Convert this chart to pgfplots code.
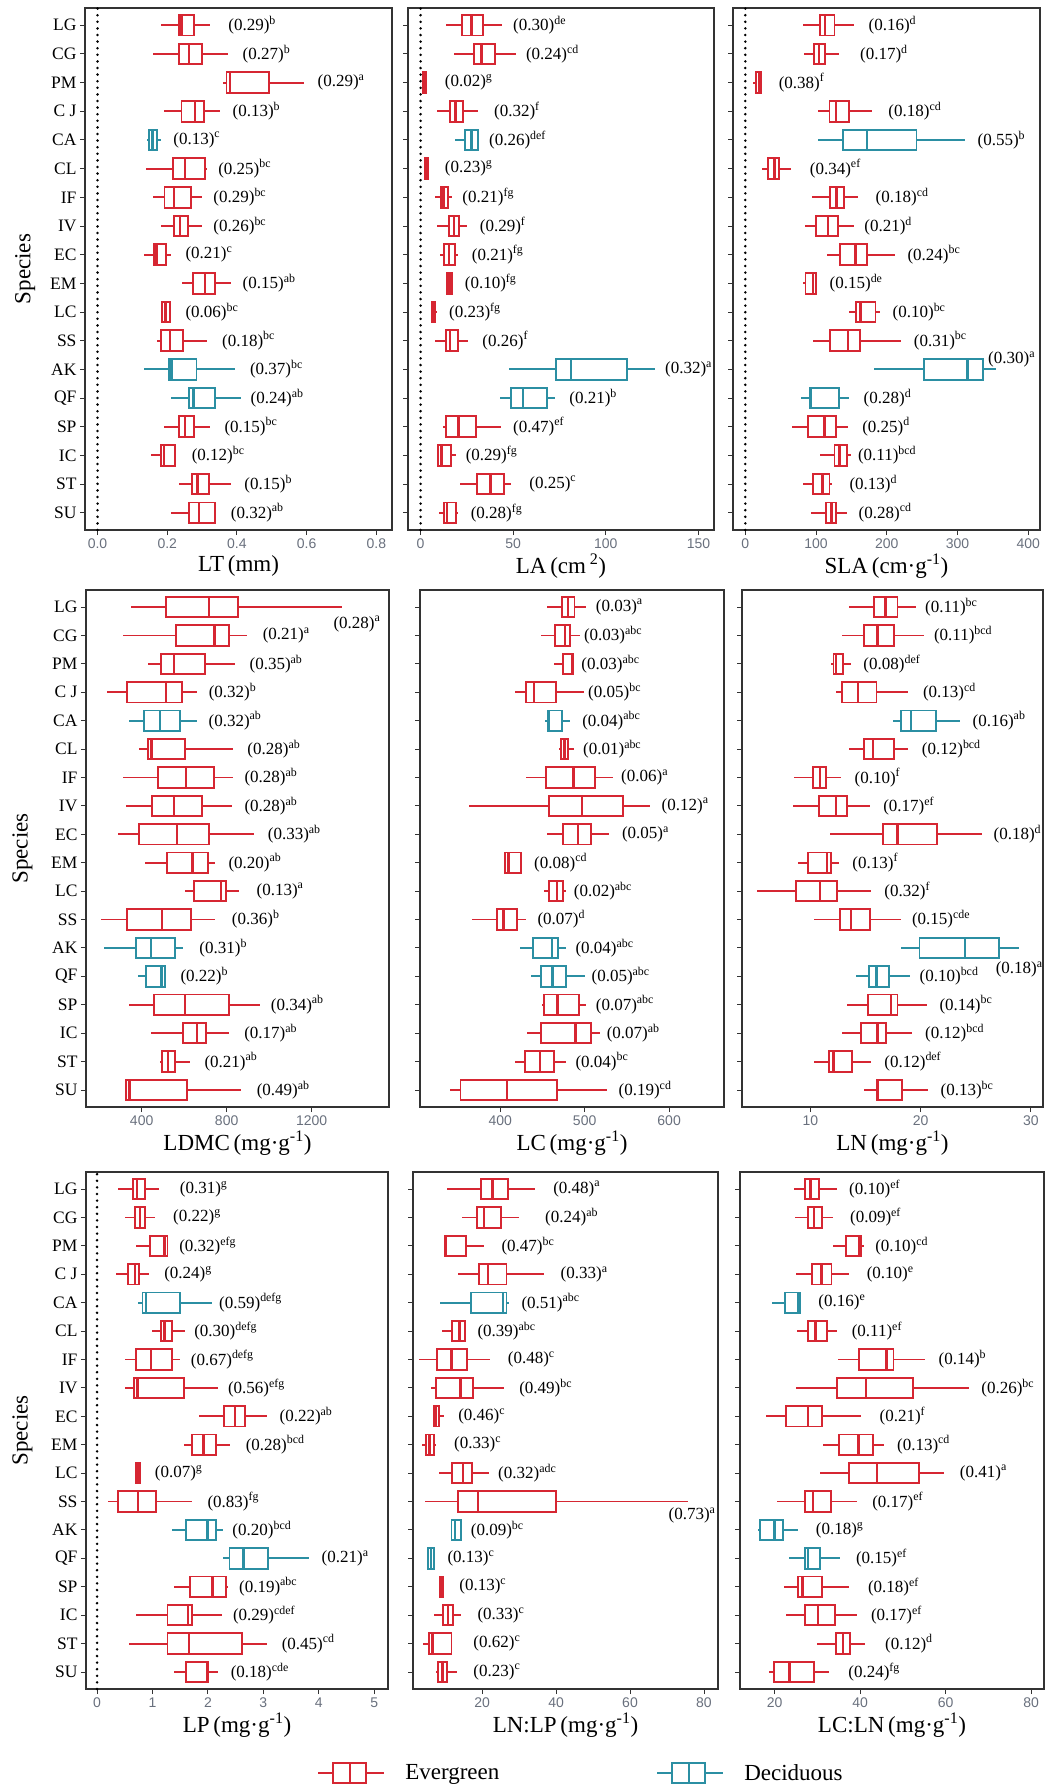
\documentclass[border=0pt]{standalone}
\usepackage{fontspec}
\setmainfont{Liberation Serif}
\newfontfamily\ticksf{Liberation Sans}
\usepackage{pgfplots}
\pgfplotsset{compat=1.18}
\usepgfplotslibrary{statistics}

\definecolor{evg}{RGB}{214,38,50}
\definecolor{dec}{RGB}{43,143,163}
\definecolor{frm}{RGB}{51,51,51}
\definecolor{tkc}{RGB}{105,112,125}

% one box: colour, row, lower whisker, q1, median, q3, upper whisker
\newcommand{\bx}[7]{\addplot[#1, line width=1.9pt, solid, boxplot prepared={draw position=#2,
  lower whisker=#3, lower quartile=#4, median=#5, upper quartile=#6, upper whisker=#7}] coordinates {};}
\newcommand{\zeroline}{\addplot[black, line width=2.8pt, line cap=round, dash pattern=on 0pt off 6.6pt] coordinates {(0,0.4) (0,18.6)};}

\pgfplotsset{
  panel/.style={
    scale only axis, clip=false, enlargelimits=false,
    axis line style={frm, line width=1.3pt},
    ymin=0.4, ymax=18.6, ytick={1,...,18},
    tick align=outside, xtick pos=bottom, ytick pos=left,
    major tick length=5pt, tick style={frm, line width=0.9pt},
    ticklabel style={font=\ticksf\fontsize{14}{14}\selectfont, text=tkc},
    yticklabel style={font=\fontsize{17.5}{17.5}\selectfont, text=black},
    /pgf/number format/assume math mode=true,
    /pgf/number format/1000 sep={},
    xlabel style={font=\fontsize{23}{23}\selectfont, at={(axis description cs:0.5,0)}, anchor=center, yshift=-36pt},
    ylabel style={font=\fontsize{23}{23}\selectfont, at={(axis description cs:-0.21,0.5)}, anchor=center},
    yticklabels={},
    boxplot/draw direction=x,
    boxplot/box extend=0.72,
    boxplot/whisker extend=0,
    boxplot/every median/.style={line width=2.4pt},
  },
  spl/.style={yticklabels={SU,ST,IC,SP,QF,AK,SS,LC,EM,EC,IV,IF,CL,CA,C J,PM,CG,LG}, ylabel={Species}},
  lab/.style={draw=none, mark=none, point meta=explicit symbolic, nodes near coords,
    nodes near coords align=horizontal,
    every node near coord/.append style={anchor=west, inner sep=0pt, font=\fontsize{17}{17}\selectfont, text=black}},
  legE/.style={legend image code/.code={\draw[evg, line width=1.9pt] (0pt,0pt) -- (15pt,0pt) (48pt,0pt) -- (66pt,0pt) (15pt,-10pt) rectangle (48pt,10pt) (31.5pt,-10pt) -- (31.5pt,10pt);}},
  legD/.style={legend image code/.code={\draw[dec, line width=1.9pt] (0pt,0pt) -- (15pt,0pt) (48pt,0pt) -- (66pt,0pt) (15pt,-10pt) rectangle (48pt,10pt) (31.5pt,-10pt) -- (31.5pt,10pt);}},
}

\begin{document}
\begin{tikzpicture}
\path[use as bounding box] (0,0) rectangle (1046pt,-1786pt);

% ---------- LT
\begin{axis}[panel, spl, at={(85pt,-8pt)}, anchor=north west, width=307pt, height=522pt,
  ylabel style={at={(axis description cs:-0.195,0.5)}},
  xmin=-0.036, xmax=0.845, xtick={0,0.2,0.4,0.6,0.8},
  xticklabel style={/pgf/number format/.cd, fixed, fixed zerofill, precision=1},
  xlabel={LT\,(mm)}]
\zeroline
\bx{evg}{18}{0.182}{0.233}{0.241}{0.278}{0.324}
\bx{evg}{17}{0.160}{0.233}{0.262}{0.301}{0.373}
\bx{evg}{16}{0.361}{0.370}{0.380}{0.491}{0.592}
\bx{evg}{15}{0.192}{0.241}{0.279}{0.305}{0.351}
\bx{dec}{14}{0.142}{0.147}{0.158}{0.171}{0.181}
\bx{evg}{13}{0.139}{0.217}{0.251}{0.309}{0.313}
\bx{evg}{12}{0.160}{0.192}{0.219}{0.267}{0.301}
\bx{evg}{11}{0.182}{0.220}{0.236}{0.260}{0.301}
\bx{evg}{10}{0.133}{0.161}{0.169}{0.196}{0.211}
\bx{evg}{9}{0.241}{0.275}{0.308}{0.337}{0.384}
\bx{evg}{8}{0.183}{0.186}{0.195}{0.208}{0.211}
\bx{evg}{7}{0.171}{0.183}{0.208}{0.244}{0.313}
\bx{dec}{6}{0.133}{0.205}{0.212}{0.284}{0.394}
\bx{dec}{5}{0.211}{0.263}{0.275}{0.337}{0.411}
\bx{evg}{4}{0.192}{0.233}{0.251}{0.278}{0.324}
\bx{evg}{3}{0.152}{0.183}{0.190}{0.222}{0.222}
\bx{evg}{2}{0.233}{0.271}{0.287}{0.320}{0.384}
\bx{evg}{1}{0.211}{0.263}{0.291}{0.337}{0.337}
\addplot[lab] coordinates {
(0.375,18) [(0.29)\textsuperscript{b}]
(0.416,17) [(0.27)\textsuperscript{b}]
(0.631,16) [(0.29)\textsuperscript{a}]
(0.387,15) [(0.13)\textsuperscript{b}]
(0.217,14) [(0.13)\textsuperscript{c}]
(0.346,13) [(0.25)\textsuperscript{bc}]
(0.332,12) [(0.29)\textsuperscript{bc}]
(0.332,11) [(0.26)\textsuperscript{bc}]
(0.252,10) [(0.21)\textsuperscript{c}]
(0.416,9) [(0.15)\textsuperscript{ab}]
(0.252,8) [(0.06)\textsuperscript{bc}]
(0.357,7) [(0.18)\textsuperscript{bc}]
(0.437,6) [(0.37)\textsuperscript{bc}]
(0.439,5) [(0.24)\textsuperscript{ab}]
(0.364,4) [(0.15)\textsuperscript{bc}]
(0.270,3) [(0.12)\textsuperscript{bc}]
(0.421,2) [(0.15)\textsuperscript{b}]
(0.382,1) [(0.32)\textsuperscript{ab}]
};
\end{axis}

% ---------- LA
\begin{axis}[panel, at={(408pt,-8pt)}, anchor=north west, width=306pt, height=522pt,
  xmin=-6.8, xmax=158.4, xtick={0,50,100,150},
  xlabel={LA\,(cm\,\textsuperscript{2})}]
\zeroline
\bx{evg}{18}{13.5}{22.5}{27.4}{33.7}{44.1}
\bx{evg}{17}{18.0}{28.6}{32.8}{40.4}{51.4}
\bx{evg}{16}{1.3}{1.5}{2.0}{2.9}{3.1}
\bx{evg}{15}{8.8}{16.0}{18.9}{22.9}{31.0}
\bx{dec}{14}{18.6}{23.8}{27.4}{31.0}{31.5}
\bx{evg}{13}{2.0}{2.2}{2.7}{4.0}{4.1}
\bx{evg}{12}{7.6}{10.8}{12.4}{14.8}{17.1}
\bx{evg}{11}{8.8}{15.3}{18.0}{20.7}{25.0}
\bx{evg}{10}{10.6}{12.6}{15.3}{18.6}{20.4}
\bx{evg}{9}{13.9}{14.4}{15.7}{16.9}{16.9}
\bx{evg}{8}{5.4}{6.1}{7.0}{7.9}{9.0}
\bx{evg}{7}{7.6}{13.5}{16.0}{20.2}{25.6}
\bx{dec}{6}{47.7}{73.3}{81.1}{111.2}{126.5}
\bx{dec}{5}{43.1}{48.8}{55.3}{68.3}{72.4}
\bx{evg}{4}{12.1}{13.9}{20.5}{29.7}{43.6}
\bx{evg}{3}{9.4}{9.4}{11.2}{16.6}{18.9}
\bx{evg}{2}{21.1}{30.5}{37.8}{44.9}{49.0}
\bx{evg}{1}{9.7}{12.8}{14.2}{19.3}{20.4}
\addplot[lab] coordinates {
(49.9,18) [(0.30)\textsuperscript{de}]
(56.8,17) [(0.24)\textsuperscript{cd}]
(13.0,16) [(0.02)\textsuperscript{g}]
(39.6,15) [(0.32)\textsuperscript{f}]
(36.9,14) [(0.26)\textsuperscript{def}]
(13.0,13) [(0.23)\textsuperscript{g}]
(22.5,12) [(0.21)\textsuperscript{fg}]
(31.9,11) [(0.29)\textsuperscript{f}]
(27.6,10) [(0.21)\textsuperscript{fg}]
(23.8,9) [(0.10)\textsuperscript{fg}]
(15.3,8) [(0.23)\textsuperscript{fg}]
(33.3,7) [(0.26)\textsuperscript{f}]
(131.9,6) [(0.32)\textsuperscript{a}]
(80.2,5) [(0.21)\textsuperscript{b}]
(49.9,4) [(0.47)\textsuperscript{ef}]
(24.3,3) [(0.29)\textsuperscript{fg}]
(58.6,2) [(0.25)\textsuperscript{c}]
(27.0,1) [(0.28)\textsuperscript{fg}]
};
\end{axis}

% ---------- SLA
\begin{axis}[panel, at={(733pt,-8pt)}, anchor=north west, width=307pt, height=522pt,
  xmin=-17.4, xmax=416.5, xtick={0,100,200,300,400},
  xlabel={SLA\,(cm·g\textsuperscript{-1})}]
\zeroline
\bx{evg}{18}{81}{105}{113}{126}{153}
\bx{evg}{17}{83}{97}{104}{112}{133}
\bx{evg}{16}{11}{15}{19}{22}{22}
\bx{evg}{15}{103}{119}{128}{147}{179}
\bx{dec}{14}{103}{138}{172}{242}{310}
\bx{evg}{13}{24}{32}{41}{48}{64}
\bx{evg}{12}{94}{120}{129}{140}{159}
\bx{evg}{11}{85}{100}{117}{131}{154}
\bx{evg}{10}{115}{134}{156}{172}{212}
\bx{evg}{9}{82}{85}{96}{100}{100}
\bx{evg}{8}{146}{157}{163}{184}{190}
\bx{evg}{7}{96}{120}{145}{162}{220}
\bx{dec}{6}{182}{253}{314}{336}{354}
\bx{dec}{5}{78}{91}{93}{132}{147}
\bx{evg}{4}{66}{89}{112}{128}{145}
\bx{evg}{3}{106}{126}{133}{144}{150}
\bx{evg}{2}{81}{96}{109}{119}{123}
\bx{evg}{1}{93}{114}{122}{128}{144}
\addplot[lab] coordinates {
(174,18) [(0.16)\textsuperscript{d}]
(162,17) [(0.17)\textsuperscript{d}]
(47,16) [(0.38)\textsuperscript{f}]
(202,15) [(0.18)\textsuperscript{cd}]
(328,14) [(0.55)\textsuperscript{b}]
(91,13) [(0.34)\textsuperscript{ef}]
(184,12) [(0.18)\textsuperscript{cd}]
(168,11) [(0.21)\textsuperscript{d}]
(229,10) [(0.24)\textsuperscript{bc}]
(119,9) [(0.15)\textsuperscript{de}]
(208,8) [(0.10)\textsuperscript{bc}]
(238,7) [(0.31)\textsuperscript{bc}]
(343,6.35) [(0.30)\textsuperscript{a}]
(167,5) [(0.28)\textsuperscript{d}]
(165,4) [(0.25)\textsuperscript{d}]
(159,3) [(0.11)\textsuperscript{bcd}]
(147,2) [(0.13)\textsuperscript{d}]
(160,1) [(0.28)\textsuperscript{cd}]
};
\end{axis}

% ---------- LDMC
\begin{axis}[panel, spl, at={(86pt,-590pt)}, anchor=north west, width=303pt, height=517pt,
  xmin=138, xmax=1564, xtick={400,800,1200},
  xlabel={LDMC\,(mg·g\textsuperscript{-1})}]
\bx{evg}{18}{348}{515}{718}{853}{1341}
\bx{evg}{17}{314}{562}{742}{809}{894}
\bx{evg}{16}{428}{493}{552}{700}{839}
\bx{evg}{15}{235}{333}{515}{591}{662}
\bx{dec}{14}{342}{411}{486}{582}{662}
\bx{evg}{13}{389}{428}{447}{604}{831}
\bx{evg}{12}{311}{475}{609}{740}{831}
\bx{evg}{11}{326}{447}{552}{682}{827}
\bx{evg}{10}{290}{389}{565}{718}{930}
\bx{evg}{9}{417}{521}{640}{714}{747}
\bx{evg}{8}{604}{646}{772}{797}{860}
\bx{evg}{7}{207}{333}{496}{632}{747}
\bx{dec}{6}{224}{373}{445}{558}{593}
\bx{dec}{5}{384}{419}{493}{511}{511}
\bx{evg}{4}{342}{460}{604}{809}{957}
\bx{evg}{3}{442}{595}{659}{704}{813}
\bx{evg}{2}{488}{497}{525}{557}{627}
\bx{evg}{1}{320}{326}{342}{615}{866}
\addplot[lab] coordinates {
(1302,17.4) [(0.28)\textsuperscript{a}]
(969,17) [(0.21)\textsuperscript{a}]
(907,16) [(0.35)\textsuperscript{ab}]
(715,15) [(0.32)\textsuperscript{b}]
(714,14) [(0.32)\textsuperscript{ab}]
(897,13) [(0.28)\textsuperscript{ab}]
(883,12) [(0.28)\textsuperscript{ab}]
(883,11) [(0.28)\textsuperscript{ab}]
(993,10) [(0.33)\textsuperscript{ab}]
(808,9) [(0.20)\textsuperscript{ab}]
(940,8) [(0.13)\textsuperscript{a}]
(824,7) [(0.36)\textsuperscript{b}]
(671,6) [(0.31)\textsuperscript{b}]
(582,5) [(0.22)\textsuperscript{b}]
(1007,4) [(0.34)\textsuperscript{ab}]
(882,3) [(0.17)\textsuperscript{ab}]
(695,2) [(0.21)\textsuperscript{ab}]
(941,1) [(0.49)\textsuperscript{ab}]
};
\end{axis}

% ---------- LC
\begin{axis}[panel, at={(420pt,-590pt)}, anchor=north west, width=304pt, height=517pt,
  xmin=305, xmax=665, xtick={400,500,600},
  xlabel={LC\,(mg·g\textsuperscript{-1})}]
\bx{evg}{18}{455}{473}{480}{488}{501}
\bx{evg}{17}{448}{465}{477}{483}{495}
\bx{evg}{16}{464}{474}{485}{486}{487}
\bx{evg}{15}{418}{430}{440}{466}{499}
\bx{dec}{14}{453}{456}{458}{473}{483}
\bx{evg}{13}{470}{472}{476}{480}{487}
\bx{evg}{12}{431}{454}{487}{512}{533}
\bx{evg}{11}{363}{458}{497}{545}{577}
\bx{evg}{10}{455}{474}{492}{507}{529}
\bx{evg}{9}{406}{406}{410}{425}{425}
\bx{evg}{8}{452}{458}{467}{474}{478}
\bx{evg}{7}{367}{396}{404}{420}{431}
\bx{dec}{6}{424}{439}{461}{468}{478}
\bx{dec}{5}{437}{448}{462}{478}{500}
\bx{evg}{4}{449}{452}{468}{493}{502}
\bx{evg}{3}{432}{448}{489}{507}{518}
\bx{evg}{2}{418}{429}{447}{464}{478}
\bx{evg}{1}{341}{353}{408}{467}{527}
\addplot[lab] coordinates {
(513,18) [(0.03)\textsuperscript{a}]
(499,17) [(0.03)\textsuperscript{abc}]
(496,16) [(0.03)\textsuperscript{abc}]
(504,15) [(0.05)\textsuperscript{bc}]
(497,14) [(0.04)\textsuperscript{abc}]
(498,13) [(0.01)\textsuperscript{abc}]
(543,12) [(0.06)\textsuperscript{a}]
(591,11) [(0.12)\textsuperscript{a}]
(544,10) [(0.05)\textsuperscript{a}]
(440,9) [(0.08)\textsuperscript{cd}]
(487,8) [(0.02)\textsuperscript{abc}]
(444,7) [(0.07)\textsuperscript{d}]
(489,6) [(0.04)\textsuperscript{abc}]
(508,5) [(0.05)\textsuperscript{abc}]
(513,4) [(0.07)\textsuperscript{abc}]
(526,3) [(0.07)\textsuperscript{ab}]
(489,2) [(0.04)\textsuperscript{bc}]
(540,1) [(0.19)\textsuperscript{cd}]
};
\end{axis}

% ---------- LN
\begin{axis}[panel, at={(742pt,-590pt)}, anchor=north west, width=301pt, height=517pt,
  xmin=3.8, xmax=31.1, xtick={10,20,30},
  xlabel={LN\,(mg·g\textsuperscript{-1})}]
\bx{evg}{18}{13.5}{15.8}{16.8}{17.9}{19.6}
\bx{evg}{17}{12.9}{14.9}{16.1}{17.6}{20.3}
\bx{evg}{16}{11.9}{12.1}{12.3}{13.0}{13.7}
\bx{evg}{15}{12.3}{12.9}{14.3}{16.0}{18.9}
\bx{dec}{14}{17.5}{18.2}{19.1}{21.4}{23.6}
\bx{evg}{13}{13.5}{14.9}{15.7}{17.6}{18.9}
\bx{evg}{12}{8.5}{10.2}{10.9}{11.4}{12.8}
\bx{evg}{11}{8.4}{10.8}{12.3}{13.3}{15.4}
\bx{evg}{10}{11.8}{16.6}{17.9}{21.5}{25.6}
\bx{evg}{9}{8.9}{9.8}{11.5}{11.9}{12.6}
\bx{evg}{8}{5.2}{8.7}{10.9}{12.4}{15.5}
\bx{evg}{7}{10.3}{12.7}{13.7}{15.4}{18.2}
\bx{dec}{6}{18.2}{19.9}{24.0}{27.1}{28.9}
\bx{dec}{5}{14.1}{15.3}{16.0}{17.1}{19.0}
\bx{evg}{4}{13.3}{15.2}{17.3}{17.9}{20.6}
\bx{evg}{3}{12.9}{14.6}{16.1}{16.9}{19.2}
\bx{evg}{2}{10.3}{11.7}{12.1}{13.8}{15.5}
\bx{evg}{1}{14.9}{16.0}{16.1}{18.3}{20.7}
\addplot[lab] coordinates {
(20.4,18) [(0.11)\textsuperscript{bc}]
(21.2,17) [(0.11)\textsuperscript{bcd}]
(14.8,16) [(0.08)\textsuperscript{def}]
(20.2,15) [(0.13)\textsuperscript{cd}]
(24.7,14) [(0.16)\textsuperscript{ab}]
(20.1,13) [(0.12)\textsuperscript{bcd}]
(14.0,12) [(0.10)\textsuperscript{f}]
(16.6,11) [(0.17)\textsuperscript{ef}]
(26.6,10) [(0.18)\textsuperscript{d}]
(13.8,9) [(0.13)\textsuperscript{f}]
(16.7,8) [(0.32)\textsuperscript{f}]
(19.2,7) [(0.15)\textsuperscript{cde}]
(26.8,5.25) [(0.18)\textsuperscript{a}]
(19.9,5) [(0.10)\textsuperscript{bcd}]
(21.7,4) [(0.14)\textsuperscript{bc}]
(20.4,3) [(0.12)\textsuperscript{bcd}]
(16.7,2) [(0.12)\textsuperscript{def}]
(21.8,1) [(0.13)\textsuperscript{bc}]
};
\end{axis}

% ---------- LP
\begin{axis}[panel, spl, at={(86pt,-1172pt)}, anchor=north west, width=302pt, height=517pt,
  xmin=-0.2, xmax=5.25, xtick={0,1,2,3,4,5},
  xlabel={LP\,(mg·g\textsuperscript{-1})}]
\zeroline
\bx{evg}{18}{0.37}{0.65}{0.72}{0.87}{1.11}
\bx{evg}{17}{0.50}{0.69}{0.77}{0.87}{1.05}
\bx{evg}{16}{0.70}{0.96}{1.22}{1.27}{1.27}
\bx{evg}{15}{0.34}{0.56}{0.68}{0.76}{0.94}
\bx{dec}{14}{0.74}{0.82}{0.88}{1.49}{2.07}
\bx{evg}{13}{0.99}{1.15}{1.22}{1.36}{1.58}
\bx{evg}{12}{0.50}{0.71}{0.97}{1.36}{1.49}
\bx{evg}{11}{0.50}{0.67}{0.73}{1.57}{2.19}
\bx{evg}{10}{1.84}{2.29}{2.49}{2.67}{3.06}
\bx{evg}{9}{1.57}{1.72}{1.92}{2.14}{2.39}
\bx{evg}{8}{0.68}{0.70}{0.74}{0.77}{0.80}
\bx{evg}{7}{0.19}{0.37}{0.74}{1.07}{1.72}
\bx{dec}{6}{1.36}{1.60}{1.99}{2.14}{2.28}
\bx{dec}{5}{2.28}{2.39}{2.64}{3.09}{3.83}
\bx{evg}{4}{1.39}{1.67}{2.08}{2.33}{2.36}
\bx{evg}{3}{0.70}{1.27}{1.64}{1.72}{2.26}
\bx{evg}{2}{0.58}{1.27}{1.66}{2.62}{3.06}
\bx{evg}{1}{1.39}{1.60}{1.98}{2.01}{2.19}
\addplot[lab] coordinates {
(1.49,18) [(0.31)\textsuperscript{g}]
(1.37,17) [(0.22)\textsuperscript{g}]
(1.48,16) [(0.32)\textsuperscript{efg}]
(1.21,15) [(0.24)\textsuperscript{g}]
(2.20,14) [(0.59)\textsuperscript{defg}]
(1.75,13) [(0.30)\textsuperscript{defg}]
(1.69,12) [(0.67)\textsuperscript{defg}]
(2.36,11) [(0.56)\textsuperscript{efg}]
(3.29,10) [(0.22)\textsuperscript{ab}]
(2.68,9) [(0.28)\textsuperscript{bcd}]
(1.04,8) [(0.07)\textsuperscript{g}]
(1.99,7) [(0.83)\textsuperscript{fg}]
(2.44,6) [(0.20)\textsuperscript{bcd}]
(4.05,5) [(0.21)\textsuperscript{a}]
(2.56,4) [(0.19)\textsuperscript{abc}]
(2.45,3) [(0.29)\textsuperscript{cdef}]
(3.33,2) [(0.45)\textsuperscript{cd}]
(2.41,1) [(0.18)\textsuperscript{cde}]
};
\end{axis}

% ---------- LN:LP
\begin{axis}[panel, at={(413pt,-1172pt)}, anchor=north west, width=305pt, height=517pt,
  xmin=1.3, xmax=83.8, xtick={20,40,60,80},
  xlabel={LN:LP\,(mg·g\textsuperscript{-1})},
  legend style={draw=none, fill=none, at={(0.551,-0.1625)}, anchor=center, legend columns=2,
    font=\fontsize{23}{23}\selectfont,
    /tikz/every odd column/.append style={column sep=18pt},
    /tikz/every even column/.append style={column sep=155pt}}]
\addlegendimage{legE}\addlegendentry{Evergreen}
\addlegendimage{legD}\addlegendentry{Deciduous}
\bx{evg}{18}{10.5}{19.8}{22.8}{27.0}{34.4}
\bx{evg}{17}{14.5}{18.7}{20.5}{25.2}{30.0}
\bx{evg}{16}{9.7}{9.9}{10.1}{15.6}{20.5}
\bx{evg}{15}{13.5}{19.1}{21.6}{26.6}{36.8}
\bx{dec}{14}{8.5}{17.1}{25.7}{26.6}{27.2}
\bx{evg}{13}{9.2}{11.9}{13.9}{15.3}{15.3}
\bx{evg}{12}{2.9}{7.9}{11.7}{16.0}{22.1}
\bx{evg}{11}{6.1}{7.5}{14.1}{17.6}{26.0}
\bx{evg}{10}{6.6}{6.9}{7.5}{8.4}{9.7}
\bx{evg}{9}{3.6}{4.9}{5.8}{7.0}{7.5}
\bx{evg}{8}{8.3}{11.9}{14.9}{17.3}{21.9}
\bx{evg}{7}{4.5}{13.5}{18.9}{40.1}{75.6}
\bx{dec}{6}{11.7}{11.7}{12.6}{14.2}{14.2}
\bx{dec}{5}{5.0}{5.4}{6.1}{6.9}{7.0}
\bx{evg}{4}{8.3}{8.5}{9.0}{9.4}{9.7}
\bx{evg}{3}{6.9}{9.4}{10.8}{12.0}{14.4}
\bx{evg}{2}{4.0}{5.6}{6.6}{11.7}{11.7}
\bx{evg}{1}{7.6}{8.1}{9.3}{10.6}{13.1}
\addplot[lab] coordinates {
(39.2,18) [(0.48)\textsuperscript{a}]
(37.0,17) [(0.24)\textsuperscript{ab}]
(25.2,16) [(0.47)\textsuperscript{bc}]
(41.2,15) [(0.33)\textsuperscript{a}]
(30.6,14) [(0.51)\textsuperscript{abc}]
(18.7,13) [(0.39)\textsuperscript{abc}]
(26.9,12) [(0.48)\textsuperscript{c}]
(30.0,11) [(0.49)\textsuperscript{bc}]
(13.5,10) [(0.46)\textsuperscript{c}]
(12.4,9) [(0.33)\textsuperscript{c}]
(24.3,8) [(0.32)\textsuperscript{adc}]
(70.4,6.5) [(0.73)\textsuperscript{a}]
(16.9,6) [(0.09)\textsuperscript{bc}]
(10.6,5) [(0.13)\textsuperscript{c}]
(13.8,4) [(0.13)\textsuperscript{c}]
(18.7,3) [(0.33)\textsuperscript{c}]
(17.6,2) [(0.62)\textsuperscript{c}]
(17.6,1) [(0.23)\textsuperscript{c}]
};
\end{axis}

% ---------- LC:LN
\begin{axis}[panel, at={(740pt,-1172pt)}, anchor=north west, width=304pt, height=517pt,
  xmin=11.9, xmax=83, xtick={20,40,60,80},
  xlabel={LC:LN\,(mg·g\textsuperscript{-1})}]
\bx{evg}{18}{24.5}{27.2}{28.4}{30.4}{34.5}
\bx{evg}{17}{24.7}{27.8}{29.2}{31.0}{33.7}
\bx{evg}{16}{33.7}{36.6}{39.8}{40.3}{40.9}
\bx{evg}{15}{24.9}{28.8}{31.0}{33.3}{37.4}
\bx{dec}{14}{19.4}{22.5}{25.5}{26.0}{26.0}
\bx{evg}{13}{25.2}{27.8}{29.6}{32.3}{34.7}
\bx{evg}{12}{34.9}{39.7}{46.2}{47.8}{55.2}
\bx{evg}{11}{24.9}{34.5}{41.3}{52.3}{65.5}
\bx{evg}{10}{18.0}{22.6}{27.8}{31.0}{40.1}
\bx{evg}{9}{31.3}{35.0}{39.6}{43.1}{45.6}
\bx{evg}{8}{30.6}{37.4}{43.9}{53.8}{59.5}
\bx{evg}{7}{20.6}{27.2}{29.0}{33.1}{39.2}
\bx{dec}{6}{16.1}{16.6}{20.0}{22.0}{25.5}
\bx{dec}{5}{23.3}{27.2}{27.8}{30.7}{35.4}
\bx{evg}{4}{22.1}{25.5}{26.5}{31.1}{37.4}
\bx{evg}{3}{22.6}{27.2}{30.2}{34.2}{39.2}
\bx{evg}{2}{30.0}{34.3}{36.0}{37.6}{41.1}
\bx{evg}{1}{18.7}{19.8}{23.5}{29.2}{32.8}
\addplot[lab] coordinates {
(37.4,18) [(0.10)\textsuperscript{ef}]
(37.6,17) [(0.09)\textsuperscript{ef}]
(43.5,16) [(0.10)\textsuperscript{cd}]
(41.5,15) [(0.10)\textsuperscript{e}]
(30.2,14) [(0.16)\textsuperscript{e}]
(38.0,13) [(0.11)\textsuperscript{ef}]
(58.3,12) [(0.14)\textsuperscript{b}]
(68.3,11) [(0.26)\textsuperscript{bc}]
(44.5,10) [(0.21)\textsuperscript{f}]
(48.6,9) [(0.13)\textsuperscript{cd}]
(63.3,8) [(0.41)\textsuperscript{a}]
(42.8,7) [(0.17)\textsuperscript{ef}]
(29.6,6) [(0.18)\textsuperscript{g}]
(39.0,5) [(0.15)\textsuperscript{ef}]
(41.8,4) [(0.18)\textsuperscript{ef}]
(42.5,3) [(0.17)\textsuperscript{ef}]
(45.8,2) [(0.12)\textsuperscript{d}]
(37.2,1) [(0.24)\textsuperscript{fg}]
};
\end{axis}
\end{tikzpicture}
\end{document}
